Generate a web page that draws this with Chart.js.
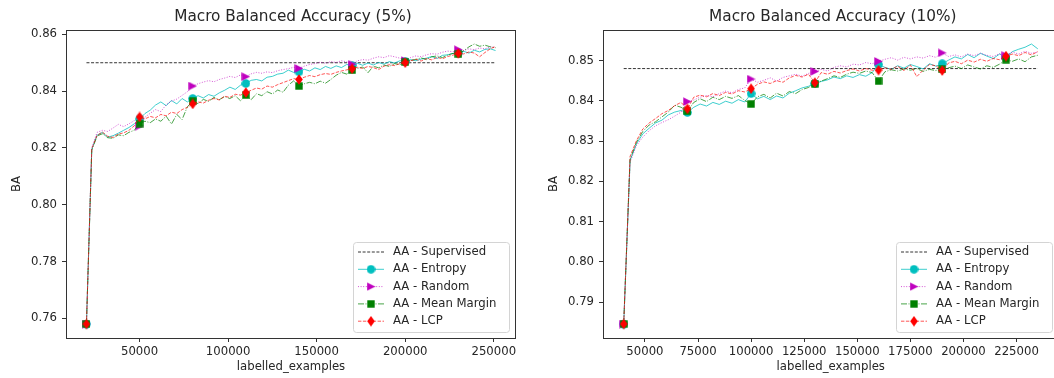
<!DOCTYPE html>
<html lang="en">
<head>
<meta charset="UTF-8">
<title>Macro Balanced Accuracy</title>
<script src="https://cdn.jsdelivr.net/npm/chart.js"></script>
<style>
  html, body { margin: 0; padding: 0; background: #fff; overflow: hidden; width: 1054px; height: 378px; }
  .panel { position: absolute; top: 0; }
  #panel5 { left: 0; }
  #panel10 { left: 530px; }
</style>
</head>
<body>
<div class="panel" id="panel5"><canvas id="ba5" width="530" height="378"></canvas></div>
<div class="panel" id="panel10"><canvas id="ba10" width="540" height="378"></canvas></div>
<script>
// ---- 5% run: labelled examples per round and balanced accuracy per strategy ----
const xs5 = [
  20000, 23000, 26000, 29000, 32000, 35000, 38000, 41000, 44000, 47000,
  50000, 53000, 56000, 59000, 62000, 65000, 68000, 71000, 74000, 77000,
  80000, 83000, 86000, 89000, 92000, 95000, 98000, 101000, 104000, 107000,
  110000, 113000, 116000, 119000, 122000, 125000, 128000, 131000, 134000, 137000,
  140000, 143000, 146000, 149000, 152000, 155000, 158000, 161000, 164000, 167000,
  170000, 173000, 176000, 179000, 182000, 185000, 188000, 191000, 194000, 197000,
  200000, 203000, 206000, 209000, 212000, 215000, 218000, 221000, 224000, 227000,
  230000, 233000, 236000, 239000, 242000, 245000, 248000, 251000
];
const entropy5 = [
  .758, .8195, .8245, .8255, .8238, .8243, .8252, .8262, .8272, .8285,
  .8302, .8321, .8333, .8351, .8362, .8349, .8367, .8355, .8374, .8362,
  .8374, .8384, .8376, .8388, .8382, .8394, .8403, .8414, .8406, .8421,
  .8427, .8438, .8441, .8436, .8449, .8452, .8460, .8463, .8474, .8466,
  .8468, .8477, .8471, .8482, .8476, .8487, .8480, .8489, .8483, .8494,
  .8490, .8498, .8491, .8499, .8492, .8501, .8495, .8504, .8499, .8507,
  .8505, .8511, .8507, .8513, .8516, .8522, .8515, .8526, .8528, .8533,
  .8535, .8540, .8534, .8544, .8538, .8547, .8549, .8543
];
const random5 = [
  .758, .8200, .8255, .8262, .8258, .8270, .8283, .8275, .8285, .8296,
  .8277, .8308, .8322, .8335, .8328, .8352, .8365, .8372, .8385, .8398,
  .8418, .8426, .8432, .8437, .8433, .8441, .8446, .8452, .8448, .8457,
  .8451, .8461, .8466, .8463, .8468, .8465, .8472, .8476, .8479, .8484,
  .8480, .8488, .8494, .8497, .8502, .8498, .8504, .8501, .8507, .8503,
  .8495, .8507, .8511, .8509, .8516, .8521, .8518, .8525, .8521, .8516,
  .8508, .8518, .8524, .8521, .8528, .8532, .8530, .8537, .8541, .8539,
  .8546, .8543, .8549, .8546, .8552, .8549, .8556, .8554
];
const margin5 = [
  .758, .8192, .8242, .8250, .8236, .8234, .8246, .8243, .8255, .8262,
  .8286, .8294, .8289, .8302, .8294, .8312, .8284, .8318, .8300, .8345,
  .8365, .8356, .8371, .8364, .8378, .8370, .8381, .8374, .8384, .8366,
  .8386, .8370, .8391, .8384, .8398, .8390, .8404, .8396, .8421, .8436,
  .8418, .8426, .8431, .8426, .8435, .8428, .8441, .8456, .8466, .8460,
  .8474, .8480, .8485, .8465, .8488, .8482, .8492, .8487, .8497, .8493,
  .8502, .8508, .8512, .8517, .8511, .8521, .8524, .8518, .8527, .8533,
  .8530, .8542, .8556, .8566, .8558, .8562, .8556, .8553
];
const lcp5 = [
  .758, .8197, .8244, .8256, .8241, .8237, .8249, .8253, .8262, .8278,
  .8309, .8302, .8311, .8306, .8318, .8313, .8326, .8321, .8335, .8343,
  .8355, .8362, .8358, .8368, .8374, .8369, .8382, .8378, .8389, .8386,
  .8395, .8403, .8411, .8407, .8418, .8414, .8423, .8430, .8437, .8444,
  .8441, .8449, .8455, .8451, .8458, .8462, .8459, .8466, .8471, .8475,
  .8479, .8484, .8480, .8487, .8483, .8476, .8488, .8493, .8490, .8497,
  .8500, .8507, .8512, .8506, .8515, .8510, .8519, .8514, .8522, .8527,
  .8533, .8531, .8538, .8534, .8521, .8536, .8549, .8557
];
const supervised5 = 0.850;
const xTicks5 = [50000, 100000, 150000, 200000, 250000];
const yTicks5 = [0.76, 0.78, 0.80, 0.82, 0.84, 0.86];

// ---- 10% run ----
const xs10 = [
  40000, 43000, 46000, 49000, 52000, 55000, 58000, 61000, 64000, 67000,
  70000, 73000, 76000, 79000, 82000, 85000, 88000, 91000, 94000, 97000,
  100000, 103000, 106000, 109000, 112000, 115000, 118000, 121000, 124000, 127000,
  130000, 133000, 136000, 139000, 142000, 145000, 148000, 151000, 154000, 157000,
  160000, 163000, 166000, 169000, 172000, 175000, 178000, 181000, 184000, 187000,
  190000, 193000, 196000, 199000, 202000, 205000, 208000, 211000, 214000, 217000,
  220000, 223000, 226000, 229000, 232000, 235000
];
const entropy10 = [
  .7846, .8252, .8293, .8318, .8332, .8345, .8352, .8365, .8372, .8376,
  .8371, .8384, .8392, .8387, .8396, .8391, .8399, .8394, .8403, .8397,
  .8418, .8405, .8411, .8403, .8412, .8407, .8419, .8425, .8432, .8436,
  .8443, .8448, .8452, .8459, .8455, .8462, .8458, .8465, .8461, .8470,
  .8490, .8483, .8478, .8487, .8481, .8490, .8485, .8479, .8492, .8486,
  .8492, .8501, .8509, .8504, .8515, .8507, .8518, .8511, .8505, .8516,
  .8508, .8522, .8528, .8533, .8541, .8529
];
const random10 = [
  .7846, .8248, .8289, .8310, .8326, .8338, .8346, .8353, .8362, .8372,
  .8398, .8402, .8409, .8413, .8410, .8418, .8424, .8420, .8428, .8432,
  .8454, .8446, .8451, .8457, .8449, .8458, .8462, .8466, .8461, .8468,
  .8473, .8478, .8474, .8483, .8487, .8484, .8491, .8489, .8495, .8492,
  .8498, .8503, .8507, .8501, .8508, .8504, .8509, .8506, .8512, .8508,
  .8519, .8510, .8514, .8509, .8516, .8512, .8518, .8513, .8510, .8517,
  .8512, .8521, .8516, .8523, .8518, .8521
];
const margin10 = [
  .7846, .8255, .8297, .8324, .8340, .8348, .8360, .8372, .8389, .8384,
  .8374, .8396, .8405, .8398, .8409, .8403, .8411, .8406, .8413, .8401,
  .8392, .8410, .8416, .8407, .8419, .8412, .8423, .8418, .8428, .8433,
  .8442, .8449, .8455, .8462, .8458, .8466, .8471, .8468, .8474, .8470,
  .8449, .8472, .8477, .8474, .8479, .8476, .8480, .8473, .8478, .8475,
  .8478, .8482, .8486, .8480, .8489, .8484, .8479, .8487, .8483, .8491,
  .8502, .8498, .8504, .8497, .8509, .8513
];
const lcp10 = [
  .7846, .8262, .8301, .8330, .8345, .8356, .8368, .8376, .8388, .8396,
  .8380, .8409, .8414, .8410, .8418, .8413, .8421, .8417, .8425, .8422,
  .8430, .8441, .8447, .8443, .8450, .8446, .8457, .8463, .8459, .8466,
  .8445, .8470, .8466, .8473, .8469, .8475, .8479, .8474, .8480, .8476,
  .8476, .8482, .8478, .8486, .8475, .8489, .8460, .8476, .8490, .8487,
  .8475, .8494, .8498, .8492, .8501, .8496, .8503, .8498, .8505, .8502,
  .8511, .8516, .8512, .8520, .8514, .8522
];
const supervised10 = 0.848;
const xTicks10 = [50000, 75000, 100000, 125000, 150000, 175000, 200000, 225000];
const yTicks10 = [0.79, 0.80, 0.81, 0.82, 0.83, 0.84, 0.85];

// ---- styling ----
const FAMILY = '"DejaVu Sans", sans-serif';
const TEXT = '#262626';
const AXIS = '#333333';
const TICK_FONT = { family: FAMILY, size: 11.7 };
const MARK_EVERY = 10;

Chart.defaults.font.family = FAMILY;
Chart.defaults.color = TEXT;

// small bitmaps used as point markers (and reused in the legend)
function markerCanvas(w, h, draw) {
  const c = document.createElement('canvas');
  c.width = w; c.height = h;
  draw(c.getContext('2d'));
  return c;
}
const circleMark = markerCanvas(9, 9, g => {
  g.fillStyle = '#00bfbf';
  g.beginPath(); g.arc(4.5, 4.5, 4.3, 0, Math.PI * 2); g.fill();
});
const triangleMark = markerCanvas(9, 9, g => {
  g.fillStyle = '#bf00bf';
  g.beginPath(); g.moveTo(8.8, 4.5); g.lineTo(0.3, 0.3); g.lineTo(0.3, 8.7); g.closePath(); g.fill();
});
const squareMark = markerCanvas(8, 8, g => {
  g.fillStyle = '#008000';
  g.fillRect(0.3, 0.3, 7.4, 7.4);
});
const diamondMark = markerCanvas(8, 11, g => {
  g.fillStyle = '#ff0000';
  g.beginPath(); g.moveTo(4, 0.2); g.lineTo(7.8, 5.5); g.lineTo(4, 10.8); g.lineTo(0.2, 5.5); g.closePath(); g.fill();
});

function series(label, xs, ys, color, dash, mark, order) {
  return {
    label: label,
    data: xs.map((x, i) => ({ x: x, y: ys[i] })),
    borderColor: color,
    borderWidth: 0.9,
    borderDash: dash,
    pointStyle: mark,
    pointRadius: ctx => (ctx.dataIndex % MARK_EVERY === 0 ? 5 : 0),
    pointHoverRadius: 0,
    tension: 0,
    order: order
  };
}

function buildDatasets(xs, sup, ent, rnd, mar, lcp) {
  return [
    {
      label: 'AA - Supervised',
      data: [{ x: xs[0], y: sup }, { x: xs[xs.length - 1], y: sup }],
      borderColor: '#000000', borderWidth: 0.8, borderDash: [3, 1.6],
      pointRadius: 0, pointStyle: false, order: 5
    },
    series('AA - Entropy', xs, ent, 'rgba(0,191,191,0.85)', [], circleMark, 4),
    series('AA - Random', xs, rnd, 'rgba(191,0,191,0.75)', [1, 1.6], triangleMark, 3),
    series('AA - Mean Margin', xs, mar, 'rgba(0,128,0,0.8)', [6, 1.5, 1, 1.5], squareMark, 2),
    series('AA - LCP', xs, lcp, 'rgba(255,0,0,0.75)', [3.4, 1.5], diamondMark, 1)
  ];
}

// box round the axes plus the panel title
const framePlugin = {
  id: 'frame',
  afterDatasetsDraw(chart, args, opts) {
    const { ctx, chartArea: a } = chart;
    ctx.save();
    ctx.strokeStyle = AXIS;
    ctx.lineWidth = 1;
    ctx.strokeRect(Math.round(a.left) + 0.5, Math.round(a.top) + 0.5,
                   Math.round(a.right - a.left) - 1, Math.round(a.bottom - a.top));
    ctx.fillStyle = TEXT;
    ctx.font = '15.3px ' + FAMILY;
    ctx.textAlign = 'center';
    ctx.textBaseline = 'middle';
    ctx.fillText(opts.text, (a.left + a.right) / 2 + 2, 17.5);
    ctx.restore();
  }
};

// legend drawn inside the lower right corner of the axes
const boxLegend = {
  id: 'boxLegend',
  afterDraw(chart) {
    const { ctx, chartArea: a } = chart;
    const w = 156, h = 90, rowH = 17.3;
    const left = Math.round(a.right - 7 - w), top = Math.round(a.bottom - 6 - h);
    ctx.save();
    ctx.beginPath();
    ctx.roundRect(left + 0.5, top + 0.5, w, h, 3);
    ctx.fillStyle = 'rgba(255,255,255,0.8)';
    ctx.fill();
    ctx.strokeStyle = '#d4d4d4';
    ctx.lineWidth = 1;
    ctx.stroke();
    ctx.font = TICK_FONT.size + 'px ' + FAMILY;
    ctx.textBaseline = 'middle';
    chart.data.datasets.forEach((ds, i) => {
      const y = top + 10 + i * rowH;
      ctx.beginPath();
      ctx.setLineDash(ds.borderDash || []);
      ctx.strokeStyle = ds.borderColor;
      ctx.lineWidth = ds.borderWidth;
      ctx.moveTo(left + 5, y);
      ctx.lineTo(left + 31, y);
      ctx.stroke();
      ctx.setLineDash([]);
      const m = ds.pointStyle;
      if (m instanceof HTMLCanvasElement) {
        ctx.drawImage(m, left + 18 - m.width / 2, y - m.height / 2);
      }
      ctx.fillStyle = TEXT;
      ctx.fillText(ds.label, left + 40, y);
    });
    ctx.restore();
  }
};

function makeChart(id, cfg) {
  return new Chart(document.getElementById(id), {
    type: 'line',
    data: { datasets: cfg.datasets },
    plugins: [framePlugin, boxLegend],
    options: {
      responsive: false,
      animation: false,
      events: [],
      layout: { padding: { left: 0, top: 30, right: cfg.padRight, bottom: 0 } },
      plugins: {
        legend: { display: false },
        tooltip: { enabled: false },
        title: { display: false },
        frame: { text: cfg.title }
      },
      scales: {
        x: {
          type: 'linear',
          min: cfg.xMin, max: cfg.xMax,
          afterBuildTicks: s => { s.ticks = cfg.xTicks.map(v => ({ value: v })); },
          afterFit: s => { s.height = 40; },
          grid: { display: true, drawOnChartArea: false, drawTicks: true, tickLength: 4, color: AXIS, lineWidth: 1 },
          border: { display: false },
          ticks: { autoSkip: false, maxRotation: 0, padding: 3, color: TEXT, font: TICK_FONT, callback: v => String(v) },
          title: { display: true, text: 'labelled_examples', color: TEXT, font: TICK_FONT, padding: { top: 0, bottom: 4.4 } }
        },
        y: {
          type: 'linear',
          min: cfg.yMin, max: cfg.yMax,
          afterBuildTicks: s => { s.ticks = cfg.yTicks.map(v => ({ value: v })); },
          afterFit: s => { s.width = cfg.yWidth; },
          grid: { display: true, drawOnChartArea: false, drawTicks: true, tickLength: 4, color: AXIS, lineWidth: 1 },
          border: { display: false },
          ticks: { padding: 5, color: TEXT, font: TICK_FONT, callback: v => v.toFixed(2) },
          title: { display: true, text: 'BA', color: TEXT, font: TICK_FONT, padding: { top: cfg.yTitlePad, bottom: 0 } }
        }
      }
    }
  });
}

makeChart('ba5', {
  title: 'Macro Balanced Accuracy (5%)',
  datasets: buildDatasets(xs5, supervised5, entropy5, random5, margin5, lcp5),
  xMin: 8450, xMax: 262550, yMin: 0.75307, yMax: 0.86153,
  xTicks: xTicks5, yTicks: yTicks5,
  yWidth: 66, padRight: 14, yTitlePad: 10
});

makeChart('ba10', {
  title: 'Macro Balanced Accuracy (10%)',
  datasets: buildDatasets(xs10, supervised10, entropy10, random10, margin10, lcp10),
  xMin: 30250, xMax: 244750, yMin: 0.781125, yMax: 0.857575,
  xTicks: xTicks10, yTicks: yTicks10,
  yWidth: 73, padRight: 11.5, yTitlePad: 17
});
</script>
</body>
</html>
